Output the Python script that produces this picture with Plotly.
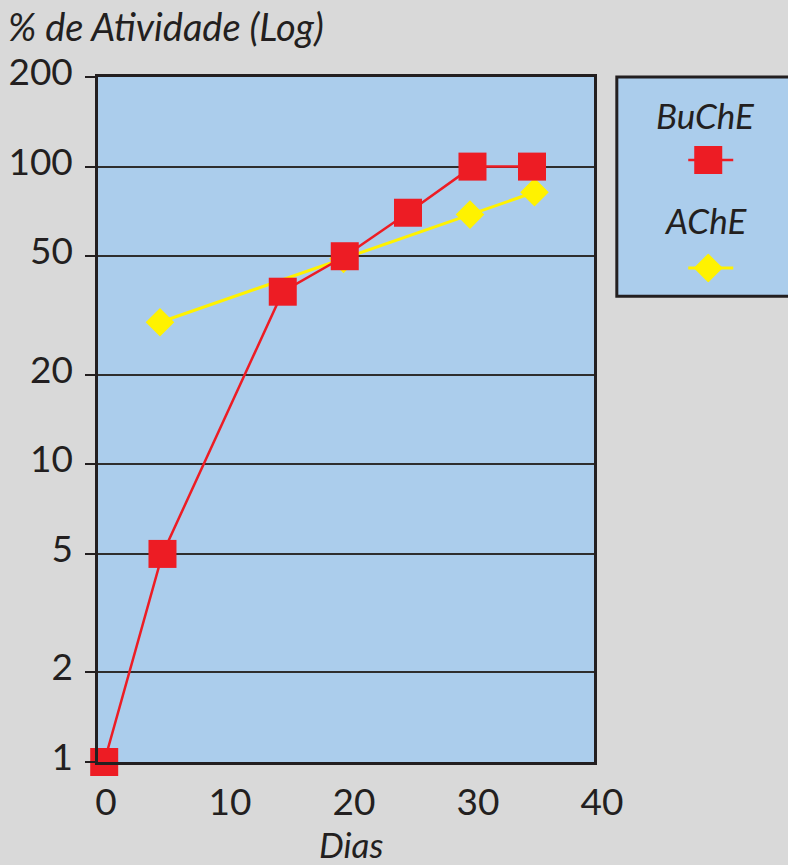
import plotly.graph_objects as go

# Data
buche_dias = [0.5, 5.2, 14.9, 19.9, 25.0, 30.2, 35.0]
buche_ativ = [1, 5, 38, 50, 70, 100, 100]
ache_dias = [5.0, 19.8, 30.0, 35.2]
ache_ativ = [30, 49, 69, 82]

y_ticks = [1, 2, 5, 10, 20, 50, 100, 200]
y_labels = ["1", "2", "5", "10", "20", "50", "100", "200"]
x_ticks = [0, 10, 20, 30, 40]

RED = "#ed1c24"
YEL = "#fff200"
BLUE = "#abcdec"
GRAY = "#d9d9d9"
INK = "#231f20"
FONT = "Lato"

fig = go.Figure()
fig.add_trace(go.Scatter(
    x=ache_dias, y=ache_ativ, mode="lines+markers", name="",
    line=dict(color=YEL, width=3),
    marker=dict(symbol="diamond", size=22, color=YEL),
    cliponaxis=False, legend="legend2"))
fig.add_trace(go.Scatter(
    x=buche_dias, y=buche_ativ, mode="lines+markers", name="",
    line=dict(color=RED, width=2.5),
    marker=dict(symbol="square", size=28, color=RED),
    cliponaxis=False, legend="legend"))

fig.update_layout(
    width=788, height=865,
    margin=dict(l=98, r=194, t=77, b=103, autoexpand=False),
    paper_bgcolor=GRAY, plot_bgcolor=BLUE,
    font=dict(family=FONT, size=37, color=INK),
    showlegend=True,
    legend=dict(x=1.190, xanchor="left", y=0.8788, yanchor="middle",
                bgcolor="rgba(0,0,0,0)", font=dict(size=10)),
    legend2=dict(x=1.190, xanchor="left", y=0.7211, yanchor="middle",
                 bgcolor="rgba(0,0,0,0)", font=dict(size=10)),
    shapes=[dict(type="rect", xref="paper", yref="paper",
                 x0=1.046, x1=1.45, y0=0.680, y1=1.0,
                 fillcolor=BLUE, line=dict(color=INK, width=3),
                 layer="below")],
    annotations=[
        dict(text="<i>% de Atividade (Log)</i>", xref="paper", yref="paper",
             x=-0.1855, y=1.0, xanchor="left", yanchor="middle", yshift=51,
             showarrow=False, font=dict(size=38)),
        dict(text="<i>Dias</i>", xref="paper", yref="paper",
             x=0.51, y=0, xanchor="center", yanchor="middle", yshift=-82,
             showarrow=False, font=dict(size=35)),
        dict(text="<i>BuChE</i>", xref="paper", yref="paper",
             x=1.2258, y=0.9445, xanchor="center", yanchor="middle",
             showarrow=False, font=dict(size=35)),
        dict(text="<i>AChE</i>", xref="paper", yref="paper",
             x=1.2258, y=0.791, xanchor="center", yanchor="middle",
             showarrow=False, font=dict(size=35)),
    ],
)
fig.update_xaxes(range=[0, 40], tickvals=x_ticks, showgrid=False,
                 zeroline=False, showline=True, mirror=True,
                 linecolor=INK, linewidth=2.5, ticks="",
                 ticklabelshift=8, ticklabelstandoff=6, automargin=False)
fig.update_yaxes(type="log", range=[0, 2.30103], tickvals=y_ticks,
                 ticktext=y_labels, showgrid=True, gridcolor="#2e2e2e",
                 gridwidth=1.5, zeroline=False, showline=True, mirror=True,
                 linecolor=INK, linewidth=2.5, ticks="outside",
                 ticklen=10, tickcolor=INK, tickwidth=2,
                 ticklabelshift=-5, ticklabelstandoff=5, automargin=False)

# Enlarge legend samples to match the reference (plotly caps them at 16px)
post = """
document.body.style.margin='0';
document.body.style.padding='0';
var gd = document.getElementById('{plot_id}');
function bigLegend(){
  ['legend', 'legend2'].forEach(function(cls){
    var k = (cls === 'legend') ? 1.75 : 1.4;
    gd.querySelectorAll('g.' + cls + ' .legendpoints path.scatterpts').forEach(function(p){
      if(!p.dataset.base){ p.dataset.base = p.getAttribute('transform') || ''; }
      p.setAttribute('transform', p.dataset.base + ' scale(' + k + ')');
    });
    gd.querySelectorAll('g.' + cls + ' .legendlines path.js-line').forEach(function(p){
      p.setAttribute('d', 'M-6,0h52');
    });
  });
}
bigLegend();
setTimeout(bigLegend, 100);
gd.on('plotly_afterplot', bigLegend);
"""
fig.write_html("out.html", post_script=post,
               config={"displayModeBar": False})
